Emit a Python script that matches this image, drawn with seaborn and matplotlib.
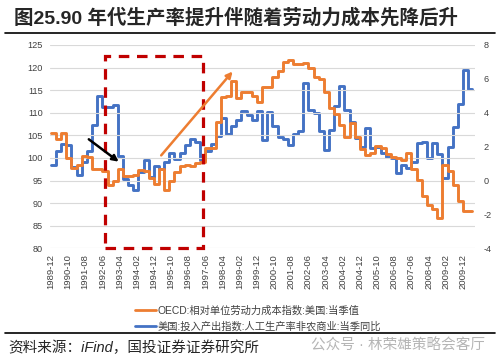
import numpy as np
import pandas as pd
import matplotlib
matplotlib.use("Agg")
import matplotlib.pyplot as plt
import seaborn as sns
from matplotlib.patches import Rectangle
from matplotlib.lines import Line2D

sns.set_style("white")
plt.rcParams["font.family"] = ["Liberation Sans", "Noto Sans CJK SC", "DejaVu Sans"]
plt.rcParams["axes.unicode_minus"] = False

ORANGE = "#ED7D31"
BLUE = "#4472C4"
DARK_RED = "#C00000"

TITLE = "图25.90 年代生产率提升伴随着劳动力成本先降后升"
OECD_LABEL = "OECD:相对单位劳动力成本指数:美国:当季值"
PROD_LABEL = "美国:投入产出指数:人工生产率非农商业:当季同比"
SOURCE = "资料来源：iFind，国投证券证券研究所"
WATERMARK = "公众号 · 林荣雄策略会客厅"

# quarterly readings, forward-filled on a monthly category axis starting 1989-12
oecd_ulc = [
    105.5, 104.2, 105.6, 100.0, 97.7, 98.5, 100.5, 100.2, 97.5, 97.5,
    97.2, 94.0, 95.0, 97.5, 96.0, 96.0, 96.3, 97.3, 97.0, 95.5,
    94.3, 97.5, 92.8, 94.8, 96.8, 98.2, 98.4, 98.2, 98.8, 99.2,
    102.3, 102.2, 108.0, 113.5, 113.7, 117.0, 113.3, 114.5, 114.5, 113.8,
    112.3, 115.6, 115.8, 118.0, 119.3, 121.3, 121.7, 120.8, 120.8, 121.0,
    119.8, 118.0, 117.4, 114.5, 111.0, 109.7, 107.3, 104.6, 107.7, 104.6,
    102.0, 100.6, 101.2, 102.7, 102.2, 100.8, 100.2, 99.9, 99.6, 101.0,
    97.6, 95.1, 91.5, 89.5, 88.8, 86.8, 98.5, 97.0, 94.0, 90.5,
    88.2, 88.3,
]
us_prod_yoy = [
    0.93, 1.73, 2.13, 2.08, 0.80, 0.32, 1.07, 1.73, 3.28, 4.99,
    4.35, 4.35, 4.45, 1.47, 0.08, -0.27, -0.53, 0.53, 1.23, 0.21,
    0.85, 0.67, 1.07, 1.60, 1.28, 1.65, 2.08, 2.48, 2.27, 1.20,
    1.73, 2.13, 2.61, 3.68, 2.72, 3.20, 3.57, 4.13, 3.87, 3.60,
    4.13, 2.40, 4.05, 3.20, 2.59, 2.48, 2.11, 2.77, 2.93, 5.76,
    4.19, 4.00, 2.93, 1.79, 3.01, 4.37, 5.60, 4.16, 3.47, 2.53,
    2.00, 3.12, 1.92, 1.95, 1.60, 1.39, 1.31, 0.43, 0.93, 0.72,
    1.12, 2.19, 2.27, 1.33, 2.19, 1.55, 0.16, 2.00, 3.17, 4.53,
    6.51, 5.41,
]
TICK_LABELS = [
    "1989-12", "1990-10", "1991-08", "1992-06", "1993-04", "1994-02",
    "1994-12", "1995-10", "1996-08", "1997-06", "1998-04", "1999-02",
    "1999-12", "2000-10", "2001-08", "2002-06", "2003-04", "2004-02",
    "2004-12", "2005-10", "2006-08", "2007-06", "2008-04", "2009-02",
    "2009-12",
]

# month index on the category axis (each quarter spans 3 months)
n_q = len(oecd_ulc)
months = list(np.arange(n_q) * 3) + [n_q * 3 - 1]
df = pd.DataFrame({
    "month": months,
    "oecd": oecd_ulc + [oecd_ulc[-1]],
    "prod": us_prod_yoy + [us_prod_yoy[-1]],
})

fig = plt.figure(figsize=(4.99, 3.64), dpi=100)
ax = fig.add_axes([50 / 499, 1 - 248.3 / 364, 425 / 499, 203.3 / 364])
ax2 = ax.twinx()

sns.lineplot(data=df, x="month", y="oecd", ax=ax, color=ORANGE, lw=2.1,
             drawstyle="steps-post", zorder=3)
sns.lineplot(data=df, x="month", y="prod", ax=ax2, color=BLUE, lw=2.1,
             drawstyle="steps-post", zorder=3)

ax.set_xlim(-0.5, 247)
ax.set_ylim(80, 125)
ax.set_yticks(np.arange(80, 126, 5))
ax2.set_ylim(-4, 8)
ax2.set_yticks(np.arange(-4, 9, 2))
ax.set_xticks(np.arange(len(TICK_LABELS)) * 10)
ax.set_xticklabels(TICK_LABELS, rotation=90, fontsize=6.8, color="#404040")
ax.tick_params(axis="x", length=0, pad=4)
ax.tick_params(axis="y", length=0, pad=5, labelsize=6.6, labelcolor="#404040")
ax2.tick_params(axis="y", length=0, pad=6, labelsize=6.6, labelcolor="#404040")
ax.set_xlabel("")
ax.set_ylabel("")
ax2.set_ylabel("")
ax.grid(axis="y", color="#D9D9D9", lw=0.8)
ax.grid(axis="x", visible=False)
ax2.grid(False)
for a in (ax, ax2):
    for s in a.spines.values():
        s.set_visible(False)
ax.set_zorder(ax2.get_zorder() + 1)
ax.patch.set_visible(False)

# dashed box marking the early-90s window
ax.add_patch(Rectangle((31.5, 80), 56.9, 42.6, fill=False, ec=DARK_RED, lw=2.3,
                       ls=(0, (3.3, 2.4)), clip_on=False, zorder=5))
# arrows
ax.annotate("", xy=(40.8, 98.8), xytext=(20.8, 104.5),
            arrowprops=dict(arrowstyle="-|>", color="black", lw=1.8, mutation_scale=9),
            zorder=6)
ax.annotate("", xy=(106.9, 119.6), xytext=(63.2, 100.1),
            arrowprops=dict(arrowstyle="-|>", color=ORANGE, lw=1.8, mutation_scale=9),
            zorder=6)

handles = [Line2D([], [], color=ORANGE, lw=2), Line2D([], [], color=BLUE, lw=2)]
fig.legend(handles, [OECD_LABEL, PROD_LABEL], loc="upper center",
           bbox_to_anchor=(258 / 499, 1 - 296 / 364), frameon=False, fontsize=7.4,
           handlelength=2.0, handletextpad=0.2, labelspacing=0.55, labelcolor="#404040")

# title, rules, source
fig.text(14 / 499, 1 - 18 / 364, TITLE, fontsize=14, fontweight="bold",
         va="center", ha="left")
fig.add_artist(Line2D([5 / 499, 495 / 499], [1 - 33 / 364] * 2, color="black", lw=1.2))
fig.add_artist(Line2D([5 / 499, 495 / 499], [1 - 333 / 364] * 2, color="black", lw=1.2))
fig.text(8 / 499, 1 - 348 / 364, SOURCE, fontsize=10.5, style="italic",
         va="center", ha="left")
fig.text(485 / 499, 1 - 345 / 364, WATERMARK, fontsize=10.5, color="#B5B5B5",
         va="center", ha="right")

plt.savefig("out.png", dpi=100)
